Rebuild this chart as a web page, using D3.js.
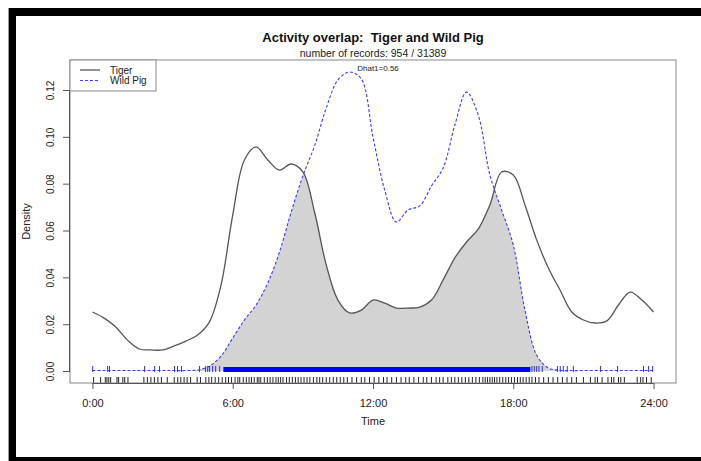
<!DOCTYPE html>
<html>
<head>
<meta charset="utf-8">
<script src="https://cdn.jsdelivr.net/npm/d3@7"></script>
<style>
  html, body { margin: 0; padding: 0; background: #fff; }
  svg { display: block; font-family: "Liberation Sans", Arial, sans-serif; }
  text { white-space: pre; }
</style>
</head>
<body>
<svg id="chart" width="701" height="461"></svg>
<script>
// Kernel density estimates sampled every half hour, 0:00 .. 24:00
const hours = [0,0.5,1,1.5,2,2.5,3,3.5,4,4.5,5,5.5,6,6.5,7,7.5,8,8.5,9,9.5,10,10.5,11,11.5,12,
  12.5,13,13.5,14,14.5,15,15.5,16,16.5,17,17.5,18,18.5,19,19.5,20,20.5,21,21.5,22,22.5,23,23.5,24];

const tigerDensity = [0.0252,0.0226,0.0188,0.0132,0.0094,0.0090,0.0090,0.0107,0.0128,0.0154,0.0209,
  0.0367,0.0666,0.0901,0.0957,0.0901,0.0858,0.0884,0.0850,0.0679,0.0453,0.0303,0.0248,0.0260,0.0303,
  0.0290,0.0269,0.0269,0.0273,0.0303,0.0389,0.0483,0.0551,0.0606,0.0709,0.0850,0.0837,0.0709,0.0560,
  0.0440,0.0346,0.0252,0.0218,0.0205,0.0214,0.0282,0.0337,0.0303,0.0252];

const pigDensity = [0.0002,0.0002,0.0002,0.0002,0.0002,0.0002,0.0002,0.0002,0.0002,0.0004,0.0021,
  0.0064,0.0141,0.0218,0.0282,0.0376,0.0508,0.0679,0.0833,0.0961,0.1123,0.1243,0.1277,0.1247,0.0999,
  0.0773,0.0636,0.0688,0.0705,0.0790,0.0867,0.1050,0.1191,0.1093,0.0837,0.0688,0.0538,0.0260,0.0068,
  0.0013,0.0003,0.0002,0.0002,0.0002,0.0002,0.0002,0.0002,0.0002,0.0002];

// Individual record times (hours) shown in the rugs
const tigerRug = [0.05,0.35,0.55,0.62,0.7,0.78,1.05,1.12,1.3,1.38,1.52,2.2,2.35,2.5,2.65,2.8,2.95,
  3.2,3.5,3.65,3.78,3.92,4.05,4.2,4.48,4.62,4.85,4.98,5.1,5.25,5.4,5.55,5.7,5.82,5.95,6.1,6.22,6.3,
  6.45,6.58,6.7,6.8,6.92,7.05,7.12,7.2,7.35,7.48,7.6,7.72,7.85,7.95,8.05,8.15,8.3,8.42,8.55,8.68,8.8,
  8.92,9.05,9.18,9.3,9.45,9.6,9.72,9.85,10.0,10.15,10.3,10.45,10.6,10.75,10.9,11.1,11.3,11.5,11.65,
  11.85,12.05,12.25,12.45,12.6,12.8,13.0,13.2,13.4,13.55,13.75,13.95,14.15,14.3,14.5,14.7,14.85,15.0,
  15.2,15.35,15.5,15.65,15.8,15.95,16.1,16.25,16.4,16.55,16.7,16.8,16.9,17.0,17.1,17.2,17.3,17.42,
  17.55,17.68,17.8,17.92,18.05,18.18,18.3,18.42,18.55,18.68,18.8,18.95,19.1,19.3,19.5,19.7,19.9,20.1,
  20.3,20.5,20.7,21.0,21.3,21.5,21.6,21.8,22.05,22.2,22.3,22.5,22.6,22.75,23.3,23.45,23.55,23.7,23.9];

const pigRug = [0.01,0.65,0.73,2.23,2.66,2.87,3.51,3.64,3.81,4.58,4.84,4.93,5.01,5.14,5.27,5.44,
  18.8,18.9,19.0,19.1,19.24,19.89,20.01,20.14,20.31,20.57,21.73,22.46,23.57,23.79,23.96];
// Stretches where wild pig records are so dense the rug merges into a band
const pigRugBands = [[5.6, 18.73]];

const xTicks = [0, 6, 12, 18, 24];
const xTickLabels = ["0:00", "6:00", "12:00", "18:00", "24:00"];
const yTicks = [0, 0.02, 0.04, 0.06, 0.08, 0.10, 0.12];
const seriesNames = ["Tiger", "Wild Pig"];
const titleText = "Activity overlap:  Tiger and Wild Pig";
const subtitleText = "number of records: 954 / 31389";
const dhatText = "Dhat1=0.56";

const svg = d3.select("#chart");

// Frame around the figure
svg.append("rect").attr("x", 8).attr("y", 8).attr("width", 1).attr("height", 453).attr("fill", "#999");
svg.append("rect").attr("x", 9).attr("y", 8).attr("width", 7).attr("height", 453).attr("fill", "#000");
svg.append("rect").attr("x", 9).attr("y", 8).attr("width", 692).attr("height", 8).attr("fill", "#000");
svg.append("rect").attr("x", 9).attr("y", 457).attr("width", 692).attr("height", 4).attr("fill", "#000");

const L = 70, R = 676, T = 60, B = 383;
const x = d3.scaleLinear().domain([-0.96, 24.96]).range([L, R]);
const y = d3.scaleLinear().domain([-0.00511, 0.1328]).range([B, T]);

const tiger = hours.map((h, i) => [h, tigerDensity[i]]);
const pig = hours.map((h, i) => [h, pigDensity[i]]);

const curve = d3.curveCatmullRom.alpha(0.5);
const line = d3.line().x(d => x(d[0])).y(d => y(d[1])).curve(curve);
const area = d3.area().x(d => x(d[0])).y0(y(0)).y1(d => y(d[1])).curve(curve);

// Overlap: area under tiger clipped by area under wild pig
const defs = svg.append("defs");
defs.append("clipPath").attr("id", "pigArea").append("path").attr("d", area(pig));
svg.append("path").attr("d", area(tiger)).attr("fill", "#d3d3d3").attr("clip-path", "url(#pigArea)");

// Rugs
const rugG = svg.append("g");
rugG.selectAll("line.tr").data(tigerRug).join("line")
  .attr("x1", d => x(d)).attr("x2", d => x(d)).attr("y1", 377).attr("y2", B)
  .attr("stroke", "#222").attr("stroke-width", 1);
rugG.selectAll("line.pr").data(pigRug).join("line")
  .attr("x1", d => x(d)).attr("x2", d => x(d)).attr("y1", 366).attr("y2", 372)
  .attr("stroke", "#3030ff").attr("stroke-width", 1);
rugG.selectAll("rect.pb").data(pigRugBands).join("rect")
  .attr("x", d => x(d[0])).attr("width", d => x(d[1]) - x(d[0]))
  .attr("y", 367).attr("height", 5).attr("fill", "#0000ff");

// Density curves
svg.append("path").attr("d", line(tiger)).attr("fill", "none")
  .attr("stroke", "#555").attr("stroke-width", 1.3);
svg.append("path").attr("d", line(pig)).attr("fill", "none")
  .attr("stroke", "#3a3aff").attr("stroke-width", 1.1).attr("stroke-dasharray", "3,2");

// Plot box
svg.append("rect").attr("x", L).attr("y", T).attr("width", R - L).attr("height", B - T)
  .attr("fill", "none").attr("stroke", "#888").attr("stroke-width", 1);

// X axis
const xAxis = svg.append("g").attr("transform", `translate(0,${B})`)
  .call(d3.axisBottom(x).tickValues(xTicks).tickFormat((d, i) => xTickLabels[i]).tickSize(6).tickPadding(10));
xAxis.select(".domain").attr("d", `M${x(0)},0.5H${x(24)}`).attr("stroke", "#555");
xAxis.selectAll(".tick line").attr("stroke", "#555");
xAxis.selectAll(".tick text").attr("font-size", 11).attr("fill", "#222")
  .attr("font-family", "Liberation Sans, Arial, sans-serif");

// Y axis
const yAxis = svg.append("g").attr("transform", `translate(${L},0)`)
  .call(d3.axisLeft(y).tickValues(yTicks).tickFormat(d3.format(".2f")).tickSize(7));
yAxis.select(".domain").attr("d", `M-0.5,${y(0)}V${y(0.12)}`).attr("stroke", "#555");
yAxis.selectAll(".tick line").attr("stroke", "#555");
yAxis.selectAll(".tick text")
  .attr("font-size", 10).attr("fill", "#222").attr("font-family", "Liberation Sans, Arial, sans-serif")
  .attr("text-anchor", "middle").attr("x", null)
  .attr("transform", "translate(-20,0) rotate(-90)").attr("dy", "0.35em");

// Titles
svg.append("text").attr("x", (L + R) / 2).attr("y", 42).attr("text-anchor", "middle")
  .attr("xml:space", "preserve")
  .attr("font-size", 13).attr("font-weight", "bold").attr("fill", "#111").text(titleText);
svg.append("text").attr("x", (L + R) / 2).attr("y", 57).attr("text-anchor", "middle")
  .attr("font-size", 10.5).attr("fill", "#222").text(subtitleText);
svg.append("text").attr("x", 378).attr("y", 71).attr("text-anchor", "middle")
  .attr("font-size", 8).attr("fill", "#222").text(dhatText);
svg.append("text").attr("x", (L + R) / 2).attr("y", 425).attr("text-anchor", "middle")
  .attr("font-size", 11).attr("fill", "#222").text("Time");
svg.append("text").attr("transform", `translate(30,${(T + B) / 2}) rotate(-90)`)
  .attr("text-anchor", "middle").attr("font-size", 11).attr("fill", "#222").text("Density");

// Legend
const lg = svg.append("g");
lg.append("rect").attr("x", L).attr("y", T).attr("width", 86).attr("height", 31)
  .attr("fill", "#fff").attr("stroke", "#888");
const legendStyles = [
  { stroke: "#555", dash: null, w: 1.3 },
  { stroke: "#3a3aff", dash: "3,2", w: 1.1 }
];
seriesNames.forEach((name, i) => {
  const yy = 70 + i * 10.5;
  lg.append("line").attr("x1", 80).attr("x2", 100).attr("y1", yy).attr("y2", yy)
    .attr("stroke", legendStyles[i].stroke).attr("stroke-width", legendStyles[i].w)
    .attr("stroke-dasharray", legendStyles[i].dash);
  lg.append("text").attr("x", 110).attr("y", yy).attr("dy", "0.35em")
    .attr("font-size", 10).attr("fill", "#222").text(name);
});
</script>
</body>
</html>
